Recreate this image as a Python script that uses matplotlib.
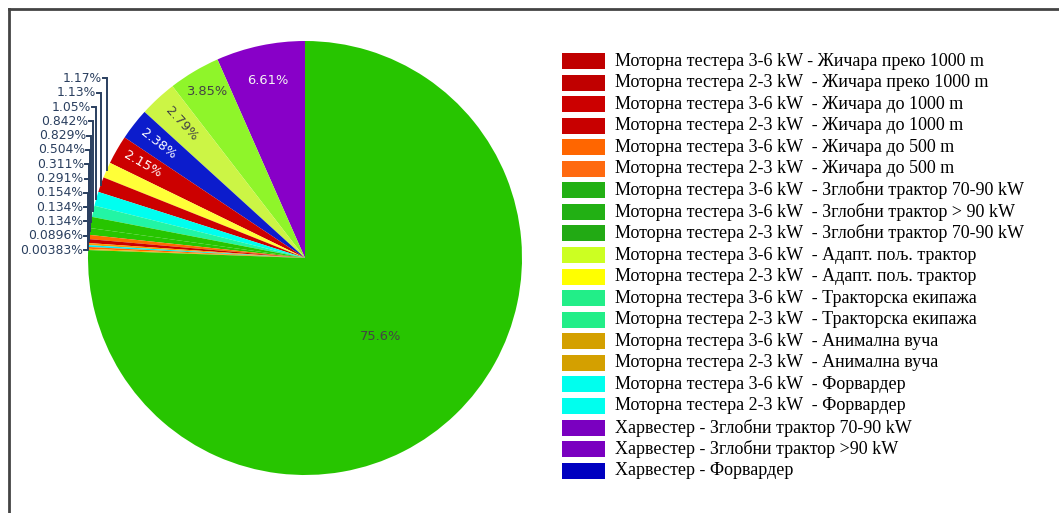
import numpy as np
import matplotlib.pyplot as plt
from matplotlib.lines import Line2D
from matplotlib.patches import Rectangle

# pie slices, counter-clockwise from 12 o'clock
shares = [6.61, 3.85, 2.79, 2.38, 2.15, 1.17, 1.13, 1.05, 0.842, 0.829, 0.504,
          0.311, 0.291, 0.154, 0.134, 0.134, 0.0896, 0.00383, 75.6]
labels = ['6.61%', '3.85%', '2.79%', '2.38%', '2.15%', '1.17%', '1.13%', '1.05%',
          '0.842%', '0.829%', '0.504%', '0.311%', '0.291%', '0.154%', '0.134%',
          '0.134%', '0.0896%', '0.00383%', '75.6%']
slice_colors = ['#8800c8', '#8ff52a', '#ccf545', '#0c1ccc', '#cc0000', '#ffff38',
                '#cc0000', '#00fff0', '#22f5a5', '#27c500', '#27c500', '#ff6a00',
                '#cc0000', '#ff9900', '#00eeee', '#ff6600', '#ffaa00', '#cc0000',
                '#27c500']

legend_names = [
    'Моторна тестера 3-6 kW - Жичара преко 1000 m',
    'Моторна тестера 2-3 kW  - Жичара преко 1000 m',
    'Моторна тестера 3-6 kW  - Жичара до 1000 m',
    'Моторна тестера 2-3 kW  - Жичара до 1000 m',
    'Моторна тестера 3-6 kW  - Жичара до 500 m',
    'Моторна тестера 2-3 kW  - Жичара до 500 m',
    'Моторна тестера 3-6 kW  - Зглобни трактор 70-90 kW',
    'Моторна тестера 3-6 kW  - Зглобни трактор > 90 kW',
    'Моторна тестера 2-3 kW  - Зглобни трактор 70-90 kW',
    'Моторна тестера 3-6 kW  - Адапт. пољ. трактор',
    'Моторна тестера 2-3 kW  - Адапт. пољ. трактор',
    'Моторна тестера 3-6 kW  - Тракторска екипажа',
    'Моторна тестера 2-3 kW  - Тракторска екипажа',
    'Моторна тестера 3-6 kW  - Анимална вуча',
    'Моторна тестера 2-3 kW  - Анимална вуча',
    'Моторна тестера 3-6 kW  - Форвардер',
    'Моторна тестера 2-3 kW  - Форвардер',
    'Харвестер - Зглобни трактор 70-90 kW',
    'Харвестер - Зглобни трактор >90 kW',
    'Харвестер - Форвардер',
]
legend_colors = ['#c00000', '#c00000', '#cc0000', '#c80000', '#ff6600', '#ff6a10',
                 '#22b014', '#22b014', '#22aa14', '#ccff22', '#ffff00', '#22ee88',
                 '#22ee88', '#d4a000', '#d4a000', '#00ffee', '#00ffee', '#7a00c0',
                 '#7a00c0', '#0000c0']

W, H = 1059, 513
fig = plt.figure(figsize=(W / 100, H / 100), dpi=100)
ax = fig.add_axes([0, 0, 1, 1])

cx, cy, R = 305, H - 258, 217
wedges, _ = ax.pie(shares, colors=slice_colors, startangle=90, counterclock=True,
                   center=(cx, cy), radius=R, wedgeprops=dict(linewidth=0))
ax.set_xlim(0, W)
ax.set_ylim(0, H)
ax.set_aspect('equal')
ax.axis('off')

mids = [np.deg2rad((w.theta1 + w.theta2) / 2) for w in wedges]

# inside labels: (index, radius fraction, rotate?, colour)
inside = {0: (0.834, False, '#f4f4f4'), 1: (0.89, False, '#444444'),
          2: (0.84, True, '#444444'), 3: (0.855, True, '#ffffff'),
          4: (0.865, True, '#ffffff'), 18: (0.5, False, '#444444')}
for i, (rf, rot, col) in inside.items():
    a = mids[i]
    x, y = cx + rf * R * np.cos(a), cy + rf * R * np.sin(a)
    ang = np.rad2deg(a) - 180 if rot else 0
    ax.text(x, y, labels[i], ha='center', va='center', rotation=ang,
            rotation_mode='anchor', fontsize=9.4, color=col, family='DejaVu Sans')

# outside labels with leader lines, stacked upwards from the lowest one
outside = list(range(5, 18))
ex = [cx + R * np.cos(mids[i]) for i in outside]
ey = [cy + R * np.sin(mids[i]) for i in outside]
ly = list(ey)
for k in range(len(outside) - 2, -1, -1):
    ly[k] = max(ey[k], ly[k + 1] + 14.3)
lc = '#2a3f5f'
for k, i in enumerate(outside):
    ax.plot([ex[k] - 4, ex[k], ex[k]], [ly[k], ly[k], ey[k]], color=lc, lw=1.4,
            solid_joinstyle='miter')
    ax.text(ex[k] - 5, ly[k], labels[i], ha='right', va='center', fontsize=8.9,
            color=lc, family='DejaVu Sans')

# legend
y0, dy = 61, 21.56
for k, (name, col) in enumerate(zip(legend_names, legend_colors)):
    y = H - (y0 + k * dy)
    ax.add_patch(Rectangle((562, y - 8), 43, 16, facecolor=col, edgecolor='none'))
    ax.text(615, y, name, ha='left', va='center', fontsize=13,
            family='Liberation Serif', color='black')

# frame: top and left edges
fig.add_artist(Line2D([9 / W, 1], [1 - 9 / H, 1 - 9 / H], color='#444444', lw=2))
fig.add_artist(Line2D([9 / W, 9 / W], [0, 1 - 9 / H], color='#444444', lw=2))

fig.savefig('out.png', dpi=100)
